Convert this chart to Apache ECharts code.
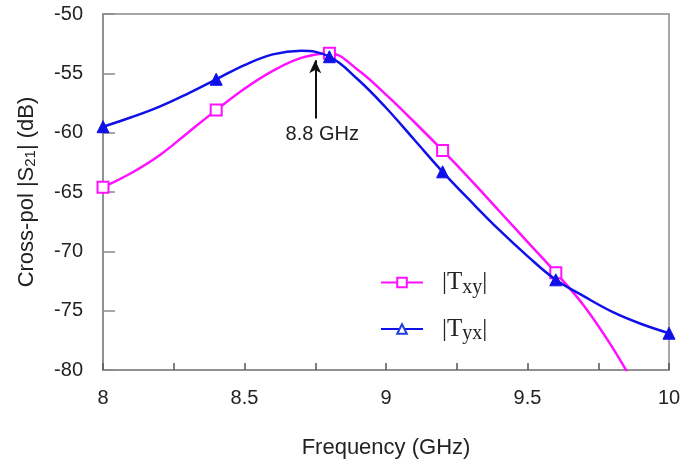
<!DOCTYPE html>
<html>
<head>
<meta charset="utf-8">
<script src="https://cdn.jsdelivr.net/npm/echarts@6/dist/echarts.min.js"></script>
<style>
  html, body { margin: 0; padding: 0; background: #fff; }
  #chart { width: 687px; height: 464px; }
</style>
</head>
<body>
<div id="chart"></div>
<script>
// frequency samples (GHz)
var freqTxy = [8.0, 8.1, 8.2, 8.3, 8.4, 8.5, 8.6, 8.7, 8.8, 8.9, 9.0, 9.1, 9.2, 9.3, 9.4, 9.5, 9.6, 9.7, 9.8, 9.9];
var valTxy  = [-64.6, -63.4, -61.9, -60.0, -58.1, -56.3, -54.8, -53.7, -53.3, -54.7, -56.8, -59.1, -61.5, -64.0, -66.6, -69.2, -71.8, -74.6, -78.1, -82.2];

var freqTyx = [8.0, 8.1, 8.2, 8.3, 8.4, 8.5, 8.6, 8.7, 8.8, 8.9, 9.0, 9.1, 9.2, 9.3, 9.4, 9.5, 9.6, 9.7, 9.8, 9.9, 10.0];
var valTyx  = [-59.5, -58.7, -57.8, -56.7, -55.5, -54.3, -53.4, -53.1, -53.6, -55.5, -57.9, -60.6, -63.3, -65.8, -68.2, -70.4, -72.4, -73.8, -75.1, -76.1, -76.9];

// frequencies carrying a marker
var markerFreqs = [8.0, 8.4, 8.8, 9.2, 9.6, 10.0];

var yTicks = [-80, -75, -70, -65, -60, -55, -50];
var xTicks = [8, 8.5, 9, 9.5, 10];

// annotation arrow
var arrowFreq = 8.75;
var arrowFrom = -58.8;
var arrowTo = -53.9;
var arrowText = '8.8 GHz';

function pts(xs, ys) {
  return xs.map(function (x, i) {
    var hasMark = markerFreqs.some(function (m) { return Math.abs(m - x) < 1e-6; });
    var item = { value: [x, ys[i]] };
    if (!hasMark) item.symbol = 'none';
    return item;
  });
}

var chart = echarts.init(document.getElementById('chart'));
var font = 'Liberation Sans, Arial, sans-serif';

chart.setOption({
  animation: false,
  backgroundColor: '#fff',
  grid: { left: 103, right: 18, top: 14, bottom: 94, show: true, borderColor: '#8a8a8a', borderWidth: 1.5 },
  legend: {
    orient: 'vertical',
    left: 375,
    top: 265,
    itemWidth: 42,
    itemHeight: 12,
    itemGap: 19,
    data: [
      { name: 'Txy' },
      { name: 'Tyx', itemStyle: { color: '#fff', borderColor: '#1f3fe0', borderWidth: 2 } }
    ],
    formatter: function (n) { return '{t||T}{s|' + n.slice(1) + '}{t||}'; },
    textStyle: {
      padding: [0, 0, 0, 14],
      rich: {
        t: { fontFamily: 'Liberation Serif, serif', fontSize: 25, color: '#222' },
        s: { fontFamily: 'Liberation Serif, serif', fontSize: 20, color: '#222', padding: [10, 0, 0, 0] }
      }
    }
  },
  xAxis: {
    type: 'value',
    min: 8, max: 10, interval: 0.5,
    name: 'Frequency (GHz)',
    nameLocation: 'middle',
    nameGap: 67,
    nameTextStyle: { fontFamily: font, fontSize: 22, color: '#222' },
    axisLine: { lineStyle: { color: '#8a8a8a', width: 1.5 } },
    axisTick: { inside: true, length: 7, lineStyle: { color: '#555', width: 1.5 } },
    minorTick: { show: true, splitNumber: 2, length: 7, lineStyle: { color: '#555', width: 1.5 } },
    splitLine: { show: false },
    axisLabel: { fontFamily: font, fontSize: 20, color: '#222', margin: 18,
      formatter: function (v) { return xTicks.indexOf(v) >= 0 ? String(v) : ''; } }
  },
  yAxis: {
    type: 'value',
    min: -80, max: -50, interval: 5,
    name: '{n|Cross-pol |S}{sb|21}{n|| (dB)}',
    nameLocation: 'middle',
    nameGap: 65,
    nameRotate: 90,
    nameTextStyle: { rich: {
      n: { fontFamily: font, fontSize: 22, color: '#222' },
      sb: { fontFamily: font, fontSize: 15, color: '#222', padding: [7, 0, 0, 0] }
    } },
    axisLine: { lineStyle: { color: '#8a8a8a', width: 1.5 } },
    axisTick: { inside: true, length: 12, lineStyle: { color: '#8a8a8a', width: 1.5 } },
    splitLine: { show: false },
    axisLabel: { fontFamily: font, fontSize: 20, color: '#222', margin: 20,
      formatter: function (v) { return yTicks.indexOf(v) >= 0 ? String(v) : ''; } }
  },
  series: [
    {
      name: 'Txy',
      type: 'line',
      smooth: 0.4,
      data: pts(freqTxy, valTxy),
      symbol: 'rect',
      symbolSize: 11,
      showAllSymbol: true,
      clip: true,
      z: 3,
      lineStyle: { color: '#ff10ff', width: 2.5 },
      itemStyle: { color: '#fff', borderColor: '#ff10ff', borderWidth: 2 },
      markLine: {
        silent: true,
        symbol: ['none', 'arrow'],
        symbolSize: [9, 13],
        lineStyle: { color: '#111', width: 2, type: 'solid' },
        label: { show: true, position: 'start', distance: 6, formatter: arrowText,
          padding: [0, 0, 0, 14], fontFamily: font, fontSize: 20, color: '#222' },
        data: [[{ coord: [arrowFreq, arrowFrom] }, { coord: [arrowFreq, arrowTo] }]]
      }
    },
    {
      name: 'Tyx',
      type: 'line',
      smooth: 0.4,
      data: pts(freqTyx, valTyx),
      symbol: 'triangle',
      symbolSize: 12,
      showAllSymbol: true,
      clip: true,
      z: 4,
      lineStyle: { color: '#1010e8', width: 2.5 },
      itemStyle: { color: '#1010e8', borderColor: '#1010e8', borderWidth: 1 }
    }
  ]
});
</script>
</body>
</html>
